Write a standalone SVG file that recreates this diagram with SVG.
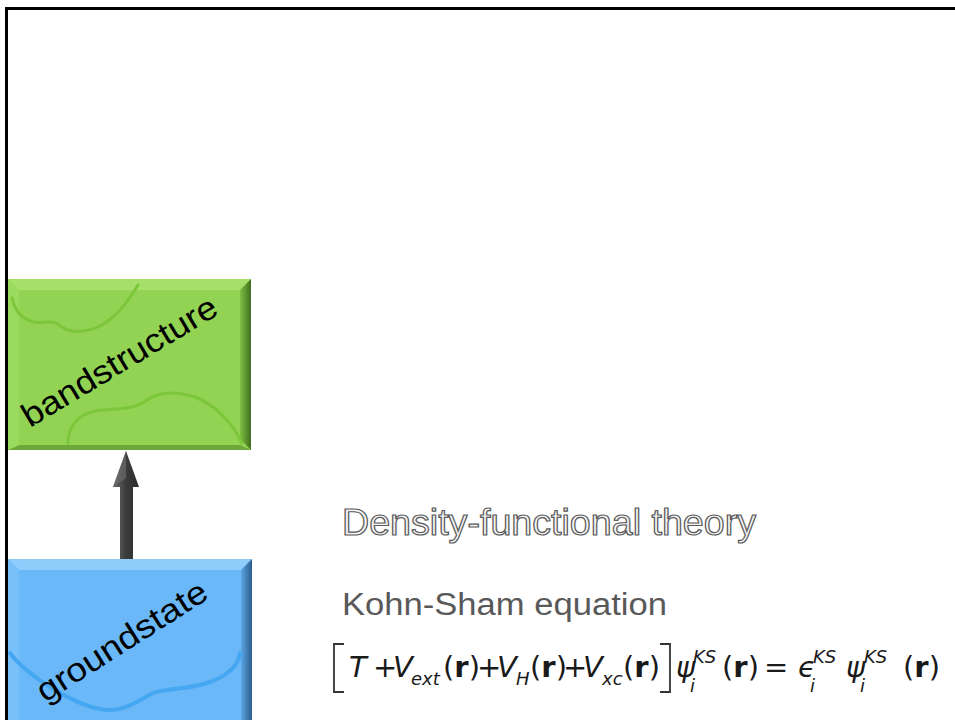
<svg xmlns="http://www.w3.org/2000/svg" width="955" height="720" viewBox="0 0 955 720">
<defs>
<style>
.lbl{font-family:"Liberation Sans","DejaVu Sans",sans-serif;fill:#000;}
.title{font-family:"Liberation Sans","DejaVu Sans",sans-serif;}
.m{font-family:"DejaVu Sans","Liberation Sans",sans-serif;font-size:29px;fill:#1a1a1a;}
.mi{font-style:italic;}
.s{font-size:18px;}
.b{font-weight:bold;}
.wave-g{fill:none;stroke:#7cc63a;stroke-width:3;stroke-linecap:round;}
.wave-b{fill:none;stroke:#45a6f2;stroke-width:4;stroke-linecap:round;}
</style>
<linearGradient id="gRight" x1="0" y1="0" x2="1" y2="0">
<stop offset="0" stop-color="#7fbf44"/><stop offset="1" stop-color="#3f6f1e"/>
</linearGradient>
<linearGradient id="bRight" x1="0" y1="0" x2="1" y2="0">
<stop offset="0" stop-color="#5aa6e6"/><stop offset="1" stop-color="#2c5e8c"/>
</linearGradient>
<linearGradient id="arrowG" x1="0" y1="0" x2="1" y2="0">
<stop offset="0" stop-color="#6a6a6a"/><stop offset="0.5" stop-color="#3c3c3c"/><stop offset="1" stop-color="#2a2a2a"/>
</linearGradient>
</defs>
<rect width="955" height="720" fill="#fff"/>
<path d="M6.5,722 V8.5 H958" fill="none" stroke="#000" stroke-width="3"/>

<g id="connectors">
<path d="M120,560 V487 H113 L126,451 L139,487 H133 V560 Z" fill="url(#arrowG)"/>
<path d="M113,487 L126,451 L126,478 Z" fill="#707070" opacity="0.6"/>
</g>

<g id="bandstructure">
<rect x="8" y="279" width="243" height="171" fill="#92d353"/>
<polygon points="8,279 251,279 240,290 19,290" fill="#a6e06b"/>
<polygon points="251,279 251,450 240,439 240,290" fill="url(#gRight)"/>
<polygon points="8,450 251,450 240,445 19,445" fill="#6ea83a"/>
<polygon points="8,279 19,290 19,445 8,450" fill="#9ada5e"/>
<path class="wave-g" d="M12,298 C15,310 20,318 33,322 C45,324 52,318 62,327 C70,333 85,333 100,326 C115,318 128,302 138,285"/>
<path class="wave-g" d="M68,443 C68,430 75,415 95,411 C115,408 135,410 147,400 C158,392 175,391 195,397 C215,405 232,422 242,443"/>
<text class="lbl" font-size="33" transform="translate(30,428) rotate(-31)" textLength="222" lengthAdjust="spacingAndGlyphs">bandstructure</text>
</g>

<g id="groundstate">
<rect x="8" y="559" width="244" height="165" fill="#6ab8f7"/>
<polygon points="8,559 252,559 241,570 19,570" fill="#8fcdfd"/>
<polygon points="252,559 252,724 241,724 241,570" fill="url(#bRight)"/>
<polygon points="8,559 19,570 19,724 8,724" fill="#78c0f9"/>
<path class="wave-b" d="M10,653 C18,664 35,678 50,687 C65,696 85,708 107,710 C125,711 140,700 153,693 C165,688 185,690 207,683 C225,677 238,667 240,653"/>
<text class="lbl" font-size="33" transform="translate(45,703) rotate(-32.5)" textLength="196" lengthAdjust="spacingAndGlyphs">groundstate</text>
</g>

<g id="dft">
<text class="title" x="342" y="535" font-size="36" fill="#f4f4f4" stroke="#595959" stroke-width="1.2" textLength="414" lengthAdjust="spacingAndGlyphs">Density-functional theory</text>
</g>

<g id="kohnsham">
<text class="title" x="342" y="615" font-size="31" fill="#595959" textLength="325" lengthAdjust="spacingAndGlyphs">Kohn-Sham equation</text>
</g>

<g id="equation">
<path d="M344,644 H334 V692 H344" fill="none" stroke="#333" stroke-width="1.8"/>
<path d="M660,644 H670 V692 H660" fill="none" stroke="#333" stroke-width="1.8"/>
<text class="m mi" x="349" y="677">T</text>
<text class="m" x="373" y="677">+</text>
<text class="m mi" x="393" y="677">V</text>
<text class="m mi s" x="411" y="685">ext</text>
<text class="m" x="443" y="677">(<tspan class="b">r</tspan>)</text>
<text class="m" x="477" y="677">+</text>
<text class="m mi" x="497" y="677">V</text>
<text class="m mi s" x="516" y="685">H</text>
<text class="m" x="530" y="677">(<tspan class="b">r</tspan>)</text>
<text class="m" x="563" y="677">+</text>
<text class="m mi" x="583" y="677">V</text>
<text class="m mi s" x="602" y="685">xc</text>
<text class="m" x="623" y="677">(<tspan class="b">r</tspan>)</text>
<text class="m mi" x="676" y="677">ψ</text>
<text class="m mi s" x="693" y="663">KS</text>
<text class="m mi s" x="690" y="692">i</text>
<text class="m" x="722" y="677">(<tspan class="b">r</tspan>)</text>
<text class="m" x="764" y="677">=</text>
<text class="m mi" x="798" y="677">ϵ</text>
<text class="m mi s" x="813" y="663">KS</text>
<text class="m mi s" x="810" y="692">i</text>
<text class="m mi" x="846" y="677">ψ</text>
<text class="m mi s" x="864" y="663">KS</text>
<text class="m mi s" x="860" y="692">i</text>
<text class="m" x="903" y="677">(<tspan class="b">r</tspan>)</text>
</g>
</svg>
